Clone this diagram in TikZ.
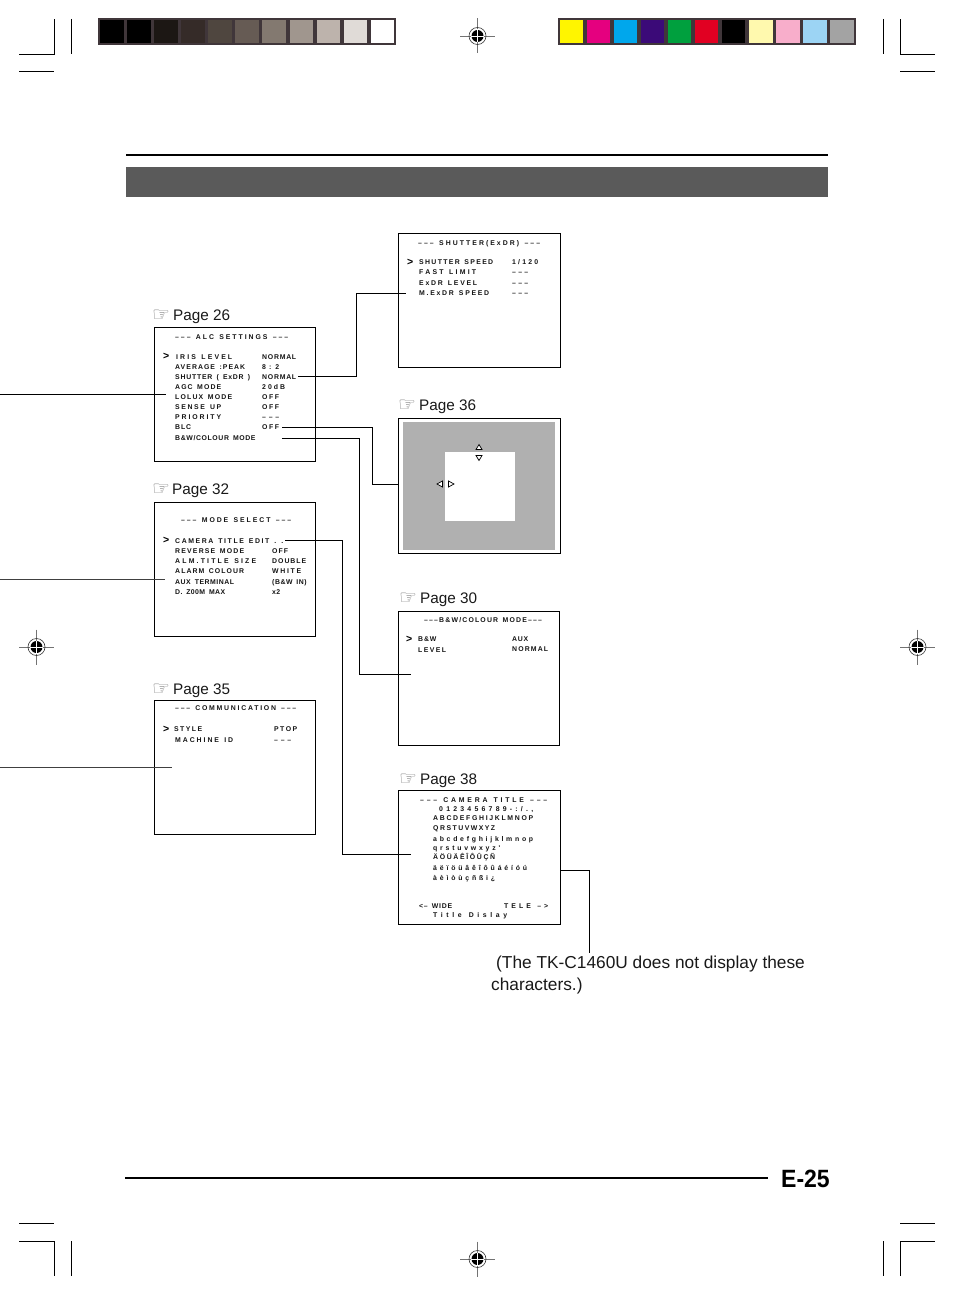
\documentclass[tikz,border=0pt]{standalone}
\usepackage{fontspec}
\setmainfont{Liberation Sans}
\newfontfamily\osdfam{Liberation Sans Bold}
\newfontfamily\iconfam{DejaVu Sans}
\newfontfamily\pagenofam[FakeStretch=0.92]{Liberation Sans Bold}
\newcommand\osdsize{\fontsize{6.9}{7}\selectfont\spaceskip=3.4pt\relax}
\ExplSyntaxOn
\cs_new:Npn \osdlen #1 {\str_count_ignore_spaces:n {#1}}
\ExplSyntaxOff
\newlength\osdwd
\definecolor{framec}{HTML}{40363A}
\definecolor{bandc}{HTML}{5A5A5A}
\definecolor{screenc}{HTML}{B0B0B0}
\tikzset{
  osdtext/.style={anchor=base west,inner sep=0pt,text=black!92},
  screen/.style={draw=black,line width=1pt,fill=white,anchor=north west,inner sep=0pt,outer sep=0pt},
  conn/.style={draw=black,line width=1pt},
  thinconn/.style={draw=black!75,line width=.8pt},
  crop/.style={draw=black,line width=.9pt},
  pagelabel/.style={anchor=base west,inner sep=0pt,font=\fontsize{15.3}{17}\selectfont,text=black!90},
  handicon/.style={anchor=base west,inner sep=0pt,font=\iconfam\fontsize{20}{20}\selectfont,text=black!50},
  chev/.style={anchor=base west,inner sep=0pt,font=\osdfam\fontsize{10.5}{10}\selectfont},
  body/.style={anchor=base west,inner sep=0pt,font=\fontsize{17.3}{20}\selectfont,text=black!90},
  tri/.style={draw=black,line width=.7pt,fill=white},
}
% name, x, centre y, right end x, text
\newcommand\osd[5]{%
  \pgfinterruptpicture\settowidth\osdwd{\osdfam\osdsize #5}\global\osdwd=\osdwd\endpgfinterruptpicture
  \edef\osdw{\the\osdwd}%
  \edef\osdn{\osdlen{#5}}%
  \pgfmathsetmacro\osdabs{(#4-#2-\osdw)/max(\osdn-1,1)}%
  \pgfmathsetmacro\osdls{\osdabs/6.9*100}%
  \node[osdtext] (#1) at (#2,#3+2.5) {\osdfam\osdsize\addfontfeature{LetterSpace=\osdls}\spaceskip=\dimexpr3.4pt+\osdabs pt\relax #5};}
\newcommand\chevron[3]{\node[chev] (#1) at (#2,#3+3.2) {>};}
\newcommand\pagehead[5]{%
  \node[handicon] (#1i) at (#2,#5+1) {☞};
  \node[pagelabel] (#1) at (#3,#5) {#4};}
\newcommand\regmark[3]{%
  \coordinate (#1) at (#2,#3);
  \draw[black!55,line width=.7pt] (#2-17.5,#3) -- (#2+17.5,#3) (#2,#3-17.5) -- (#2,#3+17.5);
  \draw[black!80,line width=.6pt] (#1) circle (8.5);
  \fill[black] (#1) circle (6);
  \draw[white,line width=.8pt] (#2-6.5,#3) -- (#2+6.5,#3) (#2,#3-6.5) -- (#2,#3+6.5);}
\begin{document}
\begin{tikzpicture}[x=1pt,y=-1pt]
\useasboundingbox[fill=white] (0,0) rectangle (954,1295);
% colour bars
\fill[framec] (98,18) rectangle (396,45);
\foreach \a/\b/\c in {100/124/000000,127/151/000000,154/178/1C1714,181/205/352B28,208/232/4F463F,235/259/665B54,262/286/837970,290/313/A0968E,317/340/BDB3AC,344/367/E0DBD7,371/394/FFFFFF}
  {\definecolor{tmpc}{HTML}{\c}\fill[tmpc] (\a,20) rectangle (\b,43);}
\fill[framec] (558,18) rectangle (856,45);
\foreach \a/\b/\c in {560/583/FFF500,587/610/E5007F,614/637/00A7EC,641/664/3B0A78,668/691/00A03E,695/718/E10022,722/745/000000,749/773/FFF9AE,776/800/F8AECB,803/827/9CD4F4,830/854/A3A3A3}
  {\definecolor{tmpc}{HTML}{\c}\fill[tmpc] (\a,20) rectangle (\b,43);}
% crop marks
\draw[crop] (19,54) -- (54,54) -- (54,19) (71,19) -- (71,54) (19,71) -- (54,71);
\draw[crop] (935,54) -- (900,54) -- (900,19) (883.5,19) -- (883.5,54) (900,71) -- (935,71);
\draw[crop] (19,1223) -- (54,1223) (19,1241) -- (54,1241) -- (54,1276) (71,1241) -- (71,1276);
\draw[crop] (900,1223) -- (935,1223) (900,1276) -- (900,1241) -- (935,1241) (883.5,1241) -- (883.5,1276);
\regmark{r1}{477.5}{36}
\regmark{r2}{36.5}{647}
\regmark{r3}{917.5}{647}
\regmark{r4}{477.5}{1259}
% header
\draw[black,line width=2pt] (126,155) -- (828,155);
\fill[bandc] (126,167) rectangle (828,197);
% screens
\node[screen,minimum width=161pt,minimum height=134pt] (alc) at (154.5,327.5) {};
\node[screen,minimum width=161pt,minimum height=134pt] (mode) at (154.5,502.5) {};
\node[screen,minimum width=161pt,minimum height=134pt] (comm) at (154.5,700.5) {};
\node[screen,minimum width=162pt,minimum height=134pt] (shut) at (398.5,233.5) {};
\draw[black,line width=1.4pt] (shut.north east) -- (shut.south east) -- (shut.south west);
\node[screen,minimum width=162pt,minimum height=135pt,line width=1.5pt] (area) at (398.5,418.5) {};
\fill[screenc] (403,422) rectangle (555,550);
\fill[white] (445,452) rectangle (515,521);
\node[screen,minimum width=161pt,minimum height=134pt] (bwc) at (398.5,611.5) {};
\node[screen,minimum width=162pt,minimum height=134pt] (cam) at (398.5,790.5) {};
\draw[black,line width=1.4pt] (cam.north east) -- (cam.south east) -- (cam.south west);
% area triangles
\draw[tri] (479,444.5) -- (482,449.5) -- (476,449.5) -- cycle;
\draw[tri] (479,460.5) -- (482,455.5) -- (476,455.5) -- cycle;
\draw[tri] (437,484) -- (442.5,481) -- (442.5,487) -- cycle;
\draw[tri] (454,484) -- (448.5,481) -- (448.5,487) -- cycle;
% page labels
\pagehead{p26}{152}{173}{Page 26}{320}
\pagehead{p32}{152}{172}{Page 32}{494}
\pagehead{p35}{152}{173}{Page 35}{694}
\pagehead{p36}{398}{419}{Page 36}{410}
\pagehead{p30}{399}{420}{Page 30}{603}
\pagehead{p38}{399}{420}{Page 38}{784}
% ALC SETTINGS
\osd{a0}{175}{336.5}{288}{––– ALC SETTINGS –––}
\chevron{ac}{163}{356.5}
\osd{a1}{176}{356.5}{232}{IRIS LEVEL}
\osd{a1v}{262}{356.5}{296}{NORMAL}
\osd{a2}{175}{366.5}{245}{AVERAGE :PEAK}
\osd{a2v}{262}{366.5}{279}{8 : 2}
\osd{a3}{175}{376.5}{250}{SHUTTER ( ExDR )}
\osd{a3v}{262}{376.5}{296}{NORMAL}
\osd{a4}{175}{386.5}{221}{AGC MODE}
\osd{a4v}{262}{386.5}{285}{20dB}
\osd{a5}{175}{396.5}{232}{LOLUX MODE}
\osd{a5v}{262}{396.5}{279}{OFF}
\osd{a6}{175}{406.5}{221}{SENSE UP}
\osd{a6v}{262}{406.5}{279}{OFF}
\osd{a7}{175}{416.5}{221}{PRIORITY}
\osd{a7v}{262}{416.5}{279}{–––}
\osd{a8}{175}{427}{191}{BLC}
\osd{a8v}{262}{427}{279}{OFF}
\osd{a9}{175}{438}{256}{B\&W/COLOUR MODE}
% MODE SELECT
\osd{m0}{181}{520}{291}{––– MODE SELECT –––}
\chevron{mc}{163}{540.7}
\osd{m1}{175}{540.7}{283}{CAMERA TITLE EDIT . .}
\osd{m2}{175}{551}{244}{REVERSE MODE}
\osd{m2v}{272}{551}{288}{OFF}
\osd{m3}{175}{561.3}{256}{ALM.TITLE SIZE}
\osd{m3v}{272}{561.3}{306}{DOUBLE}
\osd{m4}{175}{571.3}{244}{ALARM COLOUR}
\osd{m4v}{272}{571.3}{301}{WHITE}
\osd{m5}{175}{582.3}{234}{AUX TERMINAL}
\osd{m5v}{272}{582.3}{307}{(B\&W IN)}
\osd{m6}{175}{591.7}{225}{D. Z00M MAX}
\osd{m6v}{272}{591.7}{280}{x2}
% COMMUNICATION
\osd{c0}{175}{708.3}{296}{––– COMMUNICATION –––}
\chevron{cc}{163}{729}
\osd{c1}{174}{729}{202}{STYLE}
\osd{c1v}{274}{729}{297}{PTOP}
\osd{c2}{175}{739.7}{233}{MACHINE ID}
\osd{c2v}{274}{739.7}{291}{–––}
% SHUTTER
\osd{s0}{418}{242.7}{540}{––– SHUTTER(ExDR) –––}
\chevron{sc}{407}{262.3}
\osd{s1}{419}{262.3}{493}{SHUTTER SPEED}
\osd{s1v}{512}{262.3}{538}{1/120}
\osd{s2}{419}{272.3}{476}{FAST LIMIT}
\osd{s2v}{512}{272.3}{528}{–––}
\osd{s3}{419}{282.7}{477}{ExDR LEVEL}
\osd{s3v}{512}{282.7}{528}{–––}
\osd{s4}{419}{293.3}{489}{M.ExDR SPEED}
\osd{s4v}{512}{293.3}{528}{–––}
% B&W
\osd{b0}{424}{620}{543}{–––B\&W/COLOUR MODE–––}
\chevron{bc}{406}{639.3}
\osd{b1}{418}{639.3}{437}{B\&W}
\osd{b1v}{512}{639}{528}{AUX}
\osd{b2}{418}{650}{446}{LEVEL}
\osd{b2v}{512}{649}{548}{NORMAL}
% CAMERA TITLE
\osd{t0}{420}{800}{547}{––– CAMERA TITLE –––}
\osd{t1}{439}{809}{533}{0123456789-:/.,}
\osd{t2}{433}{818.3}{533}{ABCDEFGHIJKLMNOP}
\osd{t3}{433}{828.3}{495}{QRSTUVWXYZ}
\osd{t4}{433}{838.7}{533}{abcdefghijklmnop}
\osd{t5}{433}{847.7}{500}{qrstuvwxyz'}
\osd{t6}{433}{857.3}{495}{ÄÖÜÄÊÎÔÛÇÑ}
\osd{t7}{433}{868}{527}{äëïöüâêîôûáéíóú}
\osd{t8}{433}{877.7}{495}{àèìòùçñßi¿}
\osd{t9}{419}{906}{452}{<– WIDE}
\osd{t9v}{504}{906}{548}{TELE –>}
\osd{t10}{433}{914.7}{507}{Title Dislay}
% footnote and page number
\node[body] (note1) at (496,968) {(The TK-C1460U does not display these};
\node[body] (note2) at (491,990) {characters.)};
\draw[black,line width=2pt] (125,1177.5) -- (768,1177.5);
\node[anchor=base west,inner sep=0pt,font=\pagenofam\fontsize{25}{27}\selectfont] (pageno) at (781,1187) {E-25};
% connectors
\coordinate (free1) at (0,394.5);
\coordinate (end1) at (166,394.5);
\draw[conn] (free1) -- (end1);
\coordinate (free2) at (0,579.5);
\coordinate (end2) at (165,579.5);
\draw[thinconn] (free2) -- (end2);
\coordinate (free3) at (0,767);
\coordinate (end3) at (172,767);
\draw[thinconn] (free3) -- (end3);
\coordinate (shutin) at (406,293);
\coordinate (areain) at (399,484);
\coordinate (bwcin) at (411,674.5);
\coordinate (camin) at (411,854);
\draw[conn] ([xshift=2pt]a3v.east) -| (356.5,293) -- (shutin);
\draw[conn] ([xshift=3pt]a8v.east) -| (372,484) -- (areain);
\draw[conn] ([xshift=26pt]a9.east) -| (359.5,674.5) -- (bwcin);
\draw[conn] ([xshift=2pt]m1.east) -| (342.5,854) -- (camin);
\coordinate (noteup) at (589,953);
\coordinate (camout) at (561,870.5);
\draw[conn] (camout) -| (noteup);
\end{tikzpicture}
\end{document}
